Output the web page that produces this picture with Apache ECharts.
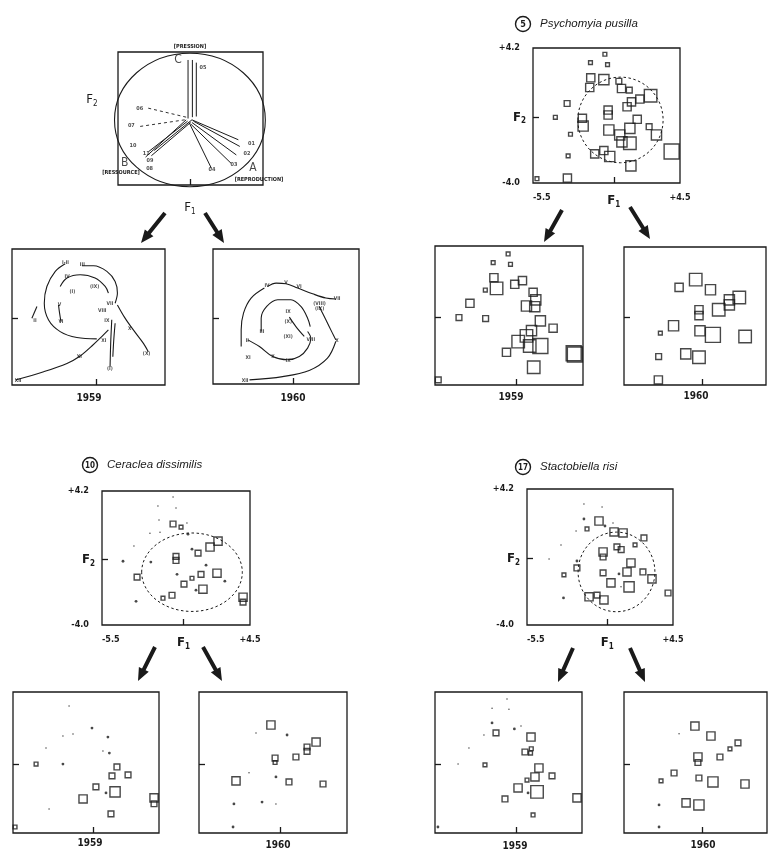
<!DOCTYPE html>
<html><head><meta charset="utf-8">
<script src="https://cdn.jsdelivr.net/npm/echarts@6/dist/echarts.min.js"></script>
<style>html,body{margin:0;padding:0;background:#fff}#c{width:768px;height:852px}</style>
</head><body><div id="c"></div>
<script>
// ---------- DATA ----------
const X_RANGE = [-5.5, 4.5];
const Y_RANGE = [-4.0, 4.2];
const X_TICK_LABELS = ['-5.5', 'F1', '+4.5'];
const Y_TICK_LABELS = ['-4.0', 'F2', '+4.2'];
const YEARS = ['1959', '1960'];
const SPECIES = [['5', 'Psychomyia pusilla'], ['10', 'Ceraclea dissimilis'], ['17', 'Stactobiella risi']];

// squares: [F1, F2, abundance class]
const ppMain = [[-0.61,3.82,1],[-1.59,3.31,1],[-0.43,3.19,1],[-1.57,2.39,3],[-0.68,2.28,4],[-1.64,1.8,3],[0.34,2.18,2],[0.52,1.74,3],[1.05,1.64,2],[2.5,1.3,5],[1.77,1.1,3],[1.2,0.93,3],[0.9,0.63,3],[-3.18,0.83,2],[-0.39,0.43,3],[-0.39,0.13,3],[-3.98,-0.01,1],[-2.14,-0.07,3],[-2.09,-0.54,4],[1.59,-0.13,3],[2.4,-0.58,2],[-2.95,-1.04,1],[-0.34,-0.78,4],[1.09,-0.68,4],[0.4,-1.08,4],[1.09,-1.59,5],[0.55,-1.5,4],[2.9,-1.08,4],[3.93,-2.09,6],[-0.68,-2.03,3],[-1.3,-2.23,3],[-0.28,-2.39,4],[-3.11,-2.35,1],[1.16,-2.96,4],[-5.23,-3.74,1],[-3.16,-3.7,3]];
const pp1959 = [[-0.56,3.73,1],[-1.57,3.22,1],[-0.4,3.12,1],[-1.52,2.33,3],[-1.34,1.7,5],[-0.11,1.94,3],[0.41,2.16,3],[-2.1,1.6,1],[-3.14,0.82,3],[1.13,1.47,3],[1.31,1.02,4],[0.68,0.66,4],[1.24,0.62,4],[-3.88,-0.02,2],[-2.08,-0.08,2],[1.62,-0.22,4],[2.48,-0.65,3],[1.02,-0.79,4],[0.68,-1.1,5],[0.12,-1.44,5],[0.9,-1.7,5],[1.62,-1.7,6],[3.87,-2.13,6],[3.95,-2.2,6],[-0.67,-2.07,3],[1.17,-2.95,5],[-5.28,-3.7,2]];
const pp1960 = [[-0.45,2.26,5],[-1.62,1.8,3],[0.59,1.66,4],[2.62,1.2,5],[1.92,1.06,4],[1.92,0.76,4],[1.17,0.47,5],[-0.22,0.47,3],[-0.22,0.12,3],[-2.01,-0.48,4],[-2.94,-0.92,1],[-0.15,-0.78,4],[0.76,-1.02,6],[3.03,-1.12,5],[-1.15,-2.15,4],[-0.22,-2.35,5],[-3.06,-2.31,2],[-3.08,-3.7,3]];
const cdMain = [[-0.7,2.18,2],[-0.16,1.99,1],[2.34,1.13,3],[1.8,0.77,3],[0.99,0.4,2],[-0.5,0.2,2],[-0.5,-0.05,2],[1.19,-0.9,2],[2.27,-0.83,3],[0.58,-1.14,1],[-3.13,-1.07,2],[0.04,-1.5,2],[1.32,-1.81,3],[-0.77,-2.18,2],[-1.38,-2.36,1],[4.03,-2.3,3],[4.03,-2.6,2]];
const cd1959 = [[1.62,-0.16,2],[1.28,-0.68,2],[2.38,-0.62,2],[0.18,-1.32,2],[1.49,-1.61,4],[-0.7,-2.02,3],[4.16,-1.96,3],[4.16,-2.3,2],[1.21,-2.89,2],[-5.36,-3.65,1],[-3.92,0.01,1]];
const cd1960 = [[-0.64,2.28,3],[2.41,1.29,3],[1.8,1.0,2],[1.8,0.75,2],[1.05,0.42,2],[-0.36,0.36,2],[-0.36,0.1,1],[-3.0,-0.97,3],[0.58,-1.03,2],[2.88,-1.15,2]];
const srMain = [[-0.57,2.27,3],[-1.39,1.79,1],[0.46,1.61,3],[1.08,1.55,3],[2.51,1.25,2],[1.9,0.83,1],[0.66,0.71,2],[0.95,0.55,2],[-0.29,0.4,3],[-0.29,0.1,2],[-2.08,-0.56,2],[1.62,-0.26,3],[-0.29,-0.86,2],[-2.97,-0.98,1],[1.35,-0.8,3],[2.44,-0.8,2],[3.06,-1.22,3],[0.25,-1.46,3],[1.49,-1.7,4],[4.16,-2.07,2],[-1.25,-2.3,3],[-0.7,-2.2,2],[-0.23,-2.49,3]];
const sr1959 = [[-1.35,1.82,2],[1.03,1.58,3],[0.62,0.71,2],[1.0,0.65,1],[1.05,0.9,1],[-2.1,-0.04,1],[1.57,-0.22,3],[1.3,-0.74,3],[2.46,-0.68,2],[0.76,-0.92,1],[0.15,-1.38,3],[1.44,-1.61,5],[-0.74,-2.02,2],[4.16,-1.96,3],[1.17,-2.95,1]];
const sr1960 = [[-0.54,2.22,3],[0.58,1.64,3],[2.47,1.24,2],[1.91,0.89,1],[1.21,0.42,2],[-0.33,0.42,3],[-0.33,0.1,2],[-2.0,-0.51,2],[-2.91,-0.97,1],[-0.26,-0.8,2],[0.72,-1.03,4],[2.96,-1.15,3],[-1.16,-2.25,3],[-0.26,-2.37,4]];

// dots: [F1, F2, filled(1) / tiny(0)]
const cdMainDots = [[-0.7,3.83,0],[-1.72,3.28,0],[-0.5,3.16,0],[-1.65,2.42,0],[0.24,2.24,0],[-2.26,1.62,0],[-1.58,1.68,0],[0.31,1.56,1],[-3.34,0.83,0],[0.58,0.64,1],[-4.08,-0.1,1],[-2.2,-0.15,1],[1.53,-0.34,1],[-0.43,-0.9,1],[2.8,-1.32,1],[0.85,-1.87,1],[-3.2,-2.55,1]];
const cd1959Dots = [[-1.66,3.39,0],[-0.09,2.1,1],[1.0,1.58,1],[-2.08,1.64,0],[-1.39,1.76,0],[-3.24,0.94,0],[0.66,0.77,0],[1.1,0.65,1],[-2.08,0.01,1],[0.87,-1.67,1],[-3.03,-2.6,0]];
const cd1960Dots = [[0.45,1.7,1],[-1.65,1.82,0],[-0.3,-0.74,1],[-2.12,-0.5,0],[-3.14,-2.31,1],[-1.24,-2.2,1],[-0.3,-2.31,0],[-3.2,-3.65,1]];
const srMainDots = [[-1.6,2.39,1],[-1.6,3.3,0],[-0.36,3.12,0],[-0.16,1.97,1],[0.39,2.15,0],[-2.14,1.67,0],[-3.17,0.83,0],[-3.99,-0.02,0],[-2.08,-0.14,1],[0.8,-0.92,1],[-3.0,-2.37,1],[0.94,-1.7,0]];
const sr1959Dots = [[-1.62,2.4,1],[-0.1,2.05,1],[-0.6,3.79,0],[-1.62,3.26,0],[-0.47,3.2,0],[-2.17,1.7,0],[0.35,2.22,0],[-3.19,0.94,0],[-3.93,0.01,0],[0.83,-1.67,1],[-5.3,-3.65,1]];
const sr1960Dots = [[-3.05,-2.37,1],[-1.65,1.77,0],[-3.05,-3.65,1]];

// dispersion ellipses: [centre F1, centre F2, semi-axis F1, semi-axis F2]
const ppEllipse = [0.45, -0.17, 2.9, 2.6];
const cdEllipse = [0.58, -0.77, 3.4, 2.4];
const srEllipse = [0.63, -0.8, 2.63, 2.4];

// ordination triangle (0..100 frame)
const triCircle = [49.6, 48.9, 52, 50.2];
const triRays = [
  [[48.3,50],[48.3,94]], [[51.3,51],[51.3,94]], [[54,51.5],[54,92]],
  [[48,48],[21,25]], [[50,47],[23,22]], [[51,49],[25,26]], [[47,49],[19,21]],
  [[51,49],[83,34]], [[52,48],[84,29]], [[51,47],[81.6,22.6]], [[50,46],[78,16.3]], [[49,47],[64.4,12.6]]
];
const triDashed = [[[47,51],[20,58]], [[46,49],[15,44]]];
const triLabels = [[58.6,88,'05'],[15,57.8,'06'],[9.2,44.5,'07'],[10.3,30,'10'],[19.5,23.9,'11'],[21.8,12.6,'08'],[22,18,'09'],[92,31.4,'01'],[89,23.9,'02'],[80,15.6,'03'],[64.8,11.3,'04']];
const triPoles = [[41.4,94.2,'C'],[4.6,16.3,'B'],[93,12.6,'A']];
const triPoleNames = ['[PRESSION]', '[RESSOURCE]', '[REPRODUCTION]'];

// seasonal trajectories (F1, F2)
const traj1959 = [
  [[-5.28,-3.7],[-3.43,-3.2],[-1.91,-2.7],[-1.04,-2.25],[-0.28,-1.65],[0.26,-1.18],[0.8,-0.68]],
  [[-2.02,3.31],[-2.67,2.85],[-3.22,1.94],[-3.39,0.93],[-3.11,-0.08],[-2.35,-0.78],[-1.26,-1.14],[0.04,-1.22]],
  [[-0.93,3.19],[-0.17,3.19],[0.7,2.85],[1.24,2.24],[1.39,1.54],[1.24,0.93]],
  [[-2.35,1.94],[-1.91,2.45],[-1.04,2.65],[-0.07,2.45],[0.59,1.94],[0.8,1.54]],
  [[-2.46,0.83],[-2.39,0.33],[-2.3,-0.18]],
  [[1.39,0.83],[1.89,0.03],[2.43,-0.68],[3.09,-1.49],[3.41,-2.0]],
  [[1.02,-0.07],[0.95,-1.5],[0.91,-2.9]],
  [[1.24,-0.28],[1.15,-1.3],[1.09,-2.3]],
  [[-4.2,0.03],[-3.87,0.73]]
];
const lab1959 = [[-5.1,-3.75,'XII'],[-2.0,3.35,'I-II'],[-0.9,3.25,'III'],[-1.9,2.5,'IV'],[-1.55,1.6,'(I)'],[-0.1,1.95,'(IX)'],[-2.4,0.85,'V'],[-2.3,-0.2,'VI'],[0.9,0.9,'VII'],[0.4,0.5,'VIII'],[0.7,-0.1,'IX'],[2.2,-0.6,'X'],[3.3,-2.1,'(X)'],[0.9,-3.0,'(I)'],[-1.1,-2.3,'XI'],[0.5,-1.3,'XI'],[-4.0,-0.1,'II']];
const traj1960 = [
  [[2.91,-1.42],[2.34,-2.43],[1.09,-3.18],[-0.73,-3.55],[-3.0,-3.75]],
  [[-1.75,1.93],[-1.18,2.13],[-0.5,2.09],[0.3,1.83],[1.32,1.48],[2.23,1.22],[2.91,1.16]],
  [[1.77,0.71],[2.23,-0.1],[2.68,-0.91],[2.91,-1.32]],
  [[-1.98,1.83],[-2.89,1.22],[-3.41,0.31],[-3.57,-0.71],[-3.57,-1.72]],
  [[-2.2,-0.81],[-2.2,0.0],[-1.82,0.71],[-1.07,1.12],[-0.16,1.12],[0.52,0.71],[0.98,0.0],[1.16,-0.51]],
  [[-3.11,-1.32],[-2.32,-1.72],[-1.41,-2.33],[-0.39,-2.53],[0.41,-2.33],[0.98,-1.82],[1.2,-1.22],[0.98,-0.81]],
  [[-0.27,0.06],[0.18,-0.51],[0.75,-1.11]]
];
const lab1960 = [[-1.8,2.0,'IV'],[-0.5,2.15,'V'],[0.4,1.9,'VI'],[3.0,1.2,'VII'],[1.8,0.9,'(VIII)'],[1.8,0.6,'(IX)'],[-0.35,0.4,'IX'],[-0.35,-0.2,'(X)'],[-0.35,-1.1,'(XI)'],[-2.15,-0.85,'III'],[-3.15,-1.35,'II'],[-3.1,-2.4,'XI'],[-1.4,-2.35,'X'],[-0.35,-2.6,'IX'],[1.2,-1.3,'VIII'],[3.0,-1.4,'X'],[-3.3,-3.8,'XII']];

// ---------- LAYOUT / STYLE ----------
const FONT = '"DejaVu Sans Condensed","DejaVu Sans",sans-serif';
const INK = '#1a1a1a';
const SIZE = [0, 3.8, 5.8, 8.2, 10.2, 12.5, 15];
const grids = [
  {left:118, top:52, width:145, height:133},  // 0 triangle
  {left:12, top:249, width:153, height:136},  // 1 traj 1959
  {left:213, top:249, width:146, height:135}, // 2 traj 1960
  {left:533, top:48, width:147, height:135},  // 3 pp main
  {left:435, top:246, width:148, height:139}, // 4 pp 1959
  {left:624, top:247, width:142, height:138}, // 5 pp 1960
  {left:102, top:491, width:148, height:134}, // 6 cd main
  {left:13, top:692, width:146, height:141},  // 7 cd 1959
  {left:199, top:692, width:148, height:141}, // 8 cd 1960
  {left:527, top:489, width:146, height:136}, // 9 sr main
  {left:435, top:692, width:147, height:141}, // 10 sr 1959
  {left:624, top:692, width:143, height:141}  // 11 sr 1960
];
const mainGrids = [3, 6, 9];

const xAxes = [], yAxes = [];
grids.forEach((g, i) => {
  const tri = i === 0;
  const isMain = mainGrids.includes(i);
  xAxes.push({
    gridIndex: i, type: 'value', min: tri ? 0 : X_RANGE[0], max: tri ? 100 : X_RANGE[1], position: 'bottom',
    axisLine: {show: false, onZero: false}, splitLine: {show: false},
    axisTick: {show: true, customValues: [tri ? 50 : 0], inside: true, length: 6, lineStyle: {color: INK, width: 1.3}},
    axisLabel: isMain ? {
      show: true, customValues: [X_RANGE[0], 0, X_RANGE[1]], margin: 10,
      alignMinLabel: 'left', alignMaxLabel: 'center',
      formatter: v => v === 0 ? '{f|F}{s|1}' : (v > 0 ? X_TICK_LABELS[2] : X_TICK_LABELS[0]),
      color: INK, fontFamily: FONT, fontWeight: 'bold', fontSize: 9,
      rich: {f: {fontSize: 13, fontFamily: FONT, color: INK}, s: {fontSize: 8, fontFamily: FONT, color: INK, padding: [8, 0, 0, 0]}}
    } : {show: false}
  });
  yAxes.push({
    gridIndex: i, type: 'value', min: tri ? 0 : Y_RANGE[0], max: tri ? 100 : Y_RANGE[1], position: 'left',
    axisLine: {show: false, onZero: false}, splitLine: {show: false},
    axisTick: {show: !tri, customValues: [0], inside: true, length: 6, lineStyle: {color: INK, width: 1.3}},
    axisLabel: isMain ? {
      show: true, customValues: [Y_RANGE[0], 0, Y_RANGE[1]], margin: 7,
      formatter: v => v === 0 ? '{f|F}{s|2}' : '{n|' + (v > 0 ? Y_TICK_LABELS[2] : Y_TICK_LABELS[0]) + '}',
      color: INK, fontFamily: FONT, fontWeight: 'bold', fontSize: 9,
      rich: {f: {fontSize: 13, fontFamily: FONT, color: INK}, s: {fontSize: 8, fontFamily: FONT, color: INK, padding: [8, 0, 0, 0]},
             n: {fontSize: 9, fontWeight: 'bold', fontFamily: FONT, color: INK, padding: [0, 6, 0, 0]}}
    } : {show: false}
  });
});

const series = [];
function squares(gi, data) {
  series.push({type: 'scatter', xAxisIndex: gi, yAxisIndex: gi, data, symbol: 'rect',
    symbolSize: v => SIZE[v[2]], silent: true,
    itemStyle: {color: 'rgba(0,0,0,0)', borderColor: INK, borderWidth: 1.4}});
}
function dots(gi, data) {
  series.push({type: 'scatter', xAxisIndex: gi, yAxisIndex: gi, data, symbol: 'circle',
    symbolSize: v => v[2] ? 2.8 : 1.5, silent: true, itemStyle: {color: INK}});
}
function ellipse(gi, e, dash) {
  series.push({type: 'custom', xAxisIndex: gi, yAxisIndex: gi, data: [e], silent: true, clip: false,
    renderItem: (params, api) => {
      const c = api.coord([api.value(0), api.value(1)]);
      const s = api.size([api.value(2), api.value(3)]);
      return {type: 'ellipse', shape: {cx: c[0], cy: c[1], rx: s[0], ry: s[1]},
        style: {fill: 'none', stroke: INK, lineWidth: dash ? 1 : 1.1, lineDash: dash ? [2.5, 2.5] : null}};
    }});
}
function paths(gi, list, opts) {
  list.forEach(d => series.push(Object.assign({type: 'line', xAxisIndex: gi, yAxisIndex: gi, data: d, symbol: 'none',
    silent: true, lineStyle: {color: INK, width: 1}}, opts || {})));
}
function labels(gi, list, size, weight) {
  series.push({type: 'scatter', xAxisIndex: gi, yAxisIndex: gi, data: list, symbolSize: 0, silent: true,
    label: {show: true, position: 'inside', formatter: p => p.data[2], fontSize: size, fontFamily: FONT,
      fontWeight: weight || 'bold', color: INK}});
}

// triangle
ellipse(0, triCircle, false);
paths(0, triRays, {lineStyle: {color: INK, width: 1}});
paths(0, triDashed, {lineStyle: {color: INK, width: 0.9, type: [3, 3]}});
labels(0, triLabels, 5.5);
labels(0, triPoles, 12, 'normal');
// trajectories
paths(1, traj1959, {smooth: 0.35, lineStyle: {color: INK, width: 1.1}});
labels(1, lab1959, 5);
paths(2, traj1960, {smooth: 0.35, lineStyle: {color: INK, width: 1.1}});
labels(2, lab1960, 5);
// species panels
squares(3, ppMain); ellipse(3, ppEllipse, true);
squares(4, pp1959); squares(5, pp1960);
squares(6, cdMain); dots(6, cdMainDots); ellipse(6, cdEllipse, true);
squares(7, cd1959); dots(7, cd1959Dots);
squares(8, cd1960); dots(8, cd1960Dots);
squares(9, srMain); dots(9, srMainDots); ellipse(9, srEllipse, true);
squares(10, sr1959); dots(10, sr1959Dots);
squares(11, sr1960); dots(11, sr1960Dots);

// ---------- annotations ----------
function arrow(x1, y1, x2, y2) {
  const dx = x2 - x1, dy = y2 - y1, L = Math.hypot(dx, dy);
  const ux = dx / L, uy = dy / L, px = -uy, py = ux, hl = 13, hw = 5.5, sw = 2;
  const bx = x2 - ux * hl, by = y2 - uy * hl;
  return {type: 'polygon', silent: true, shape: {points: [
    [x1 + px * sw, y1 + py * sw], [bx + px * sw, by + py * sw], [bx + px * hw, by + py * hw], [x2, y2],
    [bx - px * hw, by - py * hw], [bx - px * sw, by - py * sw], [x1 - px * sw, y1 - py * sw]]},
    style: {fill: INK}};
}
function txt(x, y, text, size, opt) {
  return {type: 'text', x, y, silent: true, style: Object.assign({text, fontSize: size, fontFamily: FONT,
    fontWeight: 'bold', fill: INK, align: 'center', verticalAlign: 'middle'}, opt || {})};
}
function title(cx, cy, num, name) {
  return [
    {type: 'circle', silent: true, shape: {cx, cy, r: 7.5}, style: {fill: '#fff', stroke: INK, lineWidth: 1.4}},
    txt(cx, cy + 0.5, num, num.length > 1 ? 8 : 9),
    txt(cx + 17, cy, name, 11.5, {align: 'left', fontStyle: 'italic', fontWeight: 'normal', fontFamily: '"Liberation Sans",Arial,sans-serif'})
  ];
}
const graphics = [
  arrow(165, 213, 141, 243), arrow(205, 213, 224, 243),
  arrow(562, 210, 544, 242), arrow(630, 207, 650, 239),
  arrow(155, 647, 138, 681), arrow(203, 647, 222, 681),
  arrow(573, 648, 558, 682), arrow(630, 648, 645, 682),
  ...title(523, 24, SPECIES[0][0], SPECIES[0][1]),
  ...title(90, 465, SPECIES[1][0], SPECIES[1][1]),
  ...title(523, 467, SPECIES[2][0], SPECIES[2][1]),
  txt(190, 47, triPoleNames[0], 5.5),
  txt(121, 173, triPoleNames[1], 5.5),
  txt(259, 180, triPoleNames[2], 5.5),
  {type: 'text', x: 92, y: 100, silent: true, style: {text: '{f|F}{s|2}', rich: {f: {fontSize: 13, fontFamily: FONT, fill: INK}, s: {fontSize: 8, fontFamily: FONT, fill: INK, padding: [8, 0, 0, 0]}}, align: 'center', verticalAlign: 'middle'}},
  {type: 'text', x: 190, y: 208, silent: true, style: {text: '{f|F}{s|1}', rich: {f: {fontSize: 13, fontFamily: FONT, fill: INK}, s: {fontSize: 8, fontFamily: FONT, fill: INK, padding: [8, 0, 0, 0]}}, align: 'center', verticalAlign: 'middle'}},
  txt(89, 398, YEARS[0], 10), txt(293, 398, YEARS[1], 10),
  txt(511, 397, YEARS[0], 10), txt(696, 396, YEARS[1], 10),
  txt(90, 843, YEARS[0], 10), txt(278, 845, YEARS[1], 10),
  txt(515, 846, YEARS[0], 10), txt(703, 845, YEARS[1], 10)
];

const chart = echarts.init(document.getElementById('c'), null, {renderer: 'canvas'});
chart.setOption({
  animation: false,
  backgroundColor: '#fff',
  grid: grids.map(g => Object.assign({show: true, borderColor: INK, borderWidth: 1.3, backgroundColor: 'rgba(0,0,0,0)', containLabel: false}, g)),
  xAxis: xAxes, yAxis: yAxes, series, graphic: graphics
});
</script></body></html>
